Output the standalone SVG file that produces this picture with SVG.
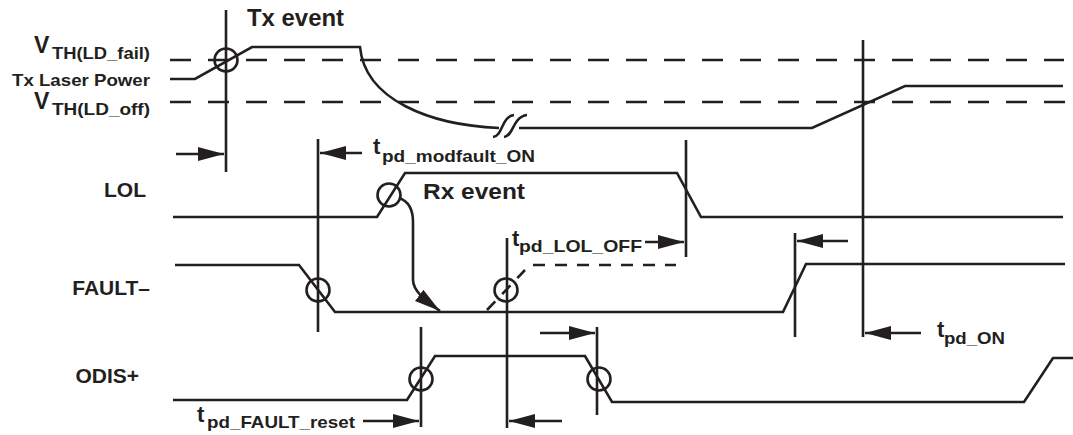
<svg xmlns="http://www.w3.org/2000/svg" width="1073" height="435" viewBox="0 0 1073 435">
<style>
.sig{fill:none;stroke:#231f20;stroke-width:2.6;stroke-linejoin:miter}
.th{fill:none;stroke:#231f20;stroke-width:2.6;stroke-dasharray:21 17}
.dsh{fill:none;stroke:#231f20;stroke-width:2.6;stroke-dasharray:12 10}
.vl{stroke:#231f20;stroke-width:2.6}
.ring{fill:none;stroke:#231f20;stroke-width:2.6}
.arr{stroke:#231f20;stroke-width:2.6;fill:none;marker-end:url(#ah)}
text{font-family:"Liberation Sans",Arial,sans-serif;font-weight:bold;fill:#231f20}
.m{font-size:22px}
.s{font-size:17px}
.lab{font-size:21px}
</style>
<defs>
<marker id="ah" markerUnits="userSpaceOnUse" markerWidth="27" markerHeight="15" refX="26" refY="7" orient="auto">
<path d="M0,0 L26,7 L0,14 z" fill="#231f20"/>
</marker>
</defs>
<rect width="1073" height="435" fill="#fff"/>

<g id="labels">
<text x="247" y="26" style="font-size:23px" textLength="97" lengthAdjust="spacingAndGlyphs">Tx event</text>
<text x="34" y="53" style="font-size:23px">V</text>
<text x="52" y="59" class="s" textLength="98" lengthAdjust="spacingAndGlyphs">TH(LD_fail)</text>
<text x="12" y="86" style="font-size:17px" textLength="138" lengthAdjust="spacingAndGlyphs">Tx Laser Power</text>
<text x="34" y="109" style="font-size:23px">V</text>
<text x="52" y="115" class="s" textLength="98" lengthAdjust="spacingAndGlyphs">TH(LD_off)</text>
<text x="146" y="197" class="lab" text-anchor="end">LOL</text>
<text x="150" y="295" class="lab" text-anchor="end">FAULT–</text>
<text x="139" y="383" class="lab" text-anchor="end">ODIS+</text>
<text x="423" y="199" style="font-size:22px" textLength="102" lengthAdjust="spacingAndGlyphs">Rx event</text>
</g>

<g id="tx-laser-power">
<path class="th" d="M170,60 H1064"/>
<path class="th" d="M170,102 H1066"/>
<path class="sig" d="M170,79 H195 L252,47 H360 C365,100 430,125 499,128"/>
<path class="sig" d="M519,128 H812 L905,86 H1063"/>
<path class="sig" d="M493,137 C503,136 501,117 514,115"/>
<path class="sig" d="M504,137 C514,136 512,117 527,115"/>
<circle class="ring" cx="226" cy="60" r="11.5"/>
</g>

<g id="lol">
<path class="sig" d="M173,217 H377 L405,173 H677 L701,217 H1063"/>
<circle class="ring" cx="389" cy="195" r="11.5"/>
</g>

<g id="fault">
<path class="sig" d="M175,265 H299 L335,312 H783 L806,264 H1065"/>
<path class="dsh" d="M487,310 L525,270"/>
<path class="dsh" d="M533,265 H676"/>
<circle class="ring" cx="318" cy="290" r="11.5"/>
<circle class="ring" cx="506" cy="290" r="11.5"/>
</g>

<g id="odis">
<path class="sig" d="M173,400 H407 L435,356 H585 L612,402 H1024 L1053,358 H1073"/>
<circle class="ring" cx="421" cy="379" r="11.5"/>
<circle class="ring" cx="599" cy="379" r="11.5"/>
</g>

<g id="timing-labels">
<text x="373" y="154" class="m">t</text>
<text x="382" y="162" class="s" textLength="153" lengthAdjust="spacingAndGlyphs">pd_modfault_ON</text>
<text x="512" y="246" class="m">t</text>
<text x="519" y="252" class="s" textLength="123" lengthAdjust="spacingAndGlyphs">pd_LOL_OFF</text>
<text x="937" y="337" class="m">t</text>
<text x="944" y="344" class="s" textLength="61" lengthAdjust="spacingAndGlyphs">pd_ON</text>
<text x="197" y="422" class="m">t</text>
<text x="207" y="428" class="s" textLength="148" lengthAdjust="spacingAndGlyphs">pd_FAULT_reset</text>
</g>

<g id="connectors">
<line class="vl" x1="226" y1="10" x2="226" y2="172"/>
<line class="vl" x1="318" y1="139" x2="318" y2="332"/>
<line class="vl" x1="686" y1="140" x2="686" y2="257"/>
<line class="vl" x1="507" y1="238" x2="507" y2="428"/>
<line class="vl" x1="795" y1="233" x2="795" y2="337"/>
<line class="vl" x1="863" y1="40" x2="863" y2="337"/>
<line class="vl" x1="421" y1="327" x2="421" y2="427"/>
<line class="vl" x1="597" y1="327" x2="597" y2="415"/>
<path class="arr" d="M176,154 H224"/>
<path class="arr" d="M362,153 H320"/>
<path class="arr" d="M645,242 H684"/>
<path class="arr" d="M848,241 H797"/>
<path class="arr" d="M921,333 H865"/>
<path class="arr" d="M540,333 H595"/>
<path class="arr" d="M363,421 H419"/>
<path class="arr" d="M562,421 H509"/>
<path class="arr" d="M399,198 C408,201 413,208 413,222 L413,280 C413,292 428,302 440,311"/>
</g>
</svg>
